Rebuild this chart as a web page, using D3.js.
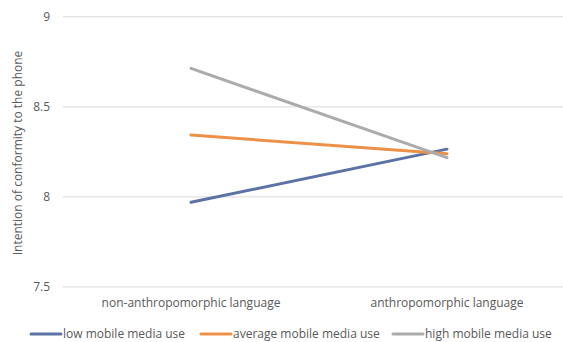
<!DOCTYPE html>
<html>
<head>
<meta charset="utf-8">
<script src="https://cdn.jsdelivr.net/npm/d3@7"></script>
<style>
  html, body { margin: 0; padding: 0; background: #fff; }
  svg { display: block; font-family: "Open Sans", sans-serif; }
</style>
</head>
<body>
<svg id="chart" width="563" height="342"></svg>
<script>
// Conditions on the x axis
const categories = ["non-anthropomorphic language", "anthropomorphic language"];
// Series names and their means per condition
const seriesNames = ["low mobile media use", "average mobile media use", "high mobile media use"];
const lowValues = [7.97, 8.265];
const averageValues = [8.343, 8.24];
const highValues = [8.713, 8.218];
const yTicks = [7.5, 8, 8.5, 9];
const colors = ["#5B72A6", "#EE9148", "#ABABAB"];
const yTitle = "Intention of conformity to the phone";

const series = [lowValues, averageValues, highValues].map((vals, i) => ({
  name: seriesNames[i],
  color: colors[i],
  points: categories.map((c, j) => ({ cat: c, value: vals[j] }))
}));

const svg = d3.select("#chart");
const textColor = "#595959";

const x = d3.scaleBand().domain(categories).range([63, 575]);
const y = d3.scaleLinear().domain([7.5, 9]).range([287, 16.7]);
const cx = c => x(c) + x.bandwidth() / 2;

// Horizontal gridlines
svg.append("g").selectAll("line").data(yTicks).join("line")
  .attr("x1", 63).attr("x2", 575)
  .attr("y1", d => y(d)).attr("y2", d => y(d))
  .attr("stroke", "#D9D9D9").attr("stroke-width", 1);

// Y tick labels
svg.append("g").selectAll("text").data(yTicks).join("text")
  .attr("x", 50).attr("y", d => y(d)).attr("dy", "0.35em")
  .attr("text-anchor", "end")
  .attr("fill", textColor).attr("font-size", 12)
  .text(d => d3.format("")(d));

// X category labels
svg.append("g").selectAll("text").data(categories).join("text")
  .attr("x", d => cx(d)).attr("y", 307)
  .attr("text-anchor", "middle")
  .attr("fill", textColor).attr("font-size", 12)
  .text(d => d);

// Y axis title
svg.append("text")
  .attr("transform", `translate(22,${153}) rotate(-90)`)
  .attr("text-anchor", "middle")
  .attr("fill", textColor).attr("font-size", 12)
  .text(yTitle);

// Series lines
const line = d3.line().x(d => cx(d.cat)).y(d => y(d.value));
svg.append("g").selectAll("path").data(series).join("path")
  .attr("d", d => line(d.points))
  .attr("fill", "none")
  .attr("stroke", d => d.color)
  .attr("stroke-width", 3)
  .attr("stroke-linecap", "round");

// Legend
const legendX = [31, 201, 393];
const lg = svg.append("g").selectAll("g").data(series).join("g")
  .attr("transform", (d, i) => `translate(${legendX[i]},334)`);
lg.append("line").attr("x1", 0).attr("x2", 30).attr("y1", 0).attr("y2", 0)
  .attr("stroke", d => d.color).attr("stroke-width", 3).attr("stroke-linecap", "round");
lg.append("text").attr("x", 32).attr("y", 0).attr("dy", "0.35em")
  .attr("fill", textColor).attr("font-size", 12)
  .text(d => d.name);
</script>
</body>
</html>
